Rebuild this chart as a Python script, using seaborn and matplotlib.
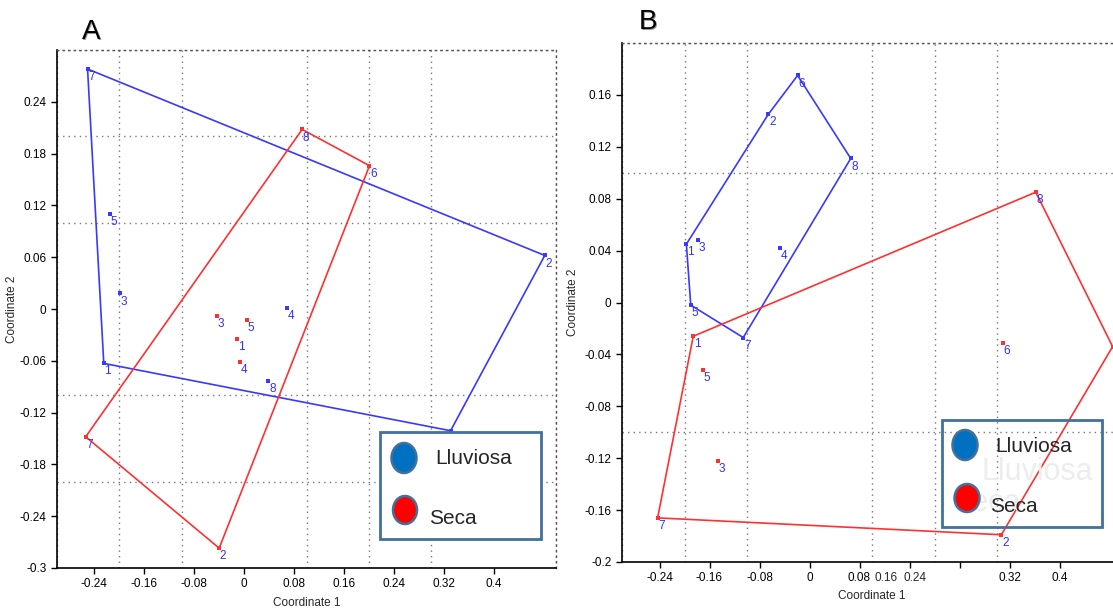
import numpy as np
import pandas as pd
import matplotlib
matplotlib.use("Agg")
import matplotlib.pyplot as plt
import seaborn as sns
from matplotlib.patches import Ellipse, Rectangle
from matplotlib.ticker import MultipleLocator
import matplotlib.transforms as mtransforms

# ---------------- data ----------------
point_ids = [1, 2, 3, 4, 5, 6, 7, 8]

# Panel A
a_lluviosa_x = [-0.225, 0.482, -0.199, 0.068, -0.215, 0.331, -0.251, 0.039]
a_lluviosa_y = [-0.063, 0.062, 0.018, 0.001, 0.110, -0.141, 0.278, -0.083]
a_seca_x = [-0.011, -0.040, -0.044, -0.006, 0.005, 0.201, -0.254, 0.093]
a_seca_y = [-0.035, -0.277, -0.008, -0.061, -0.013, 0.166, -0.148, 0.208]

# Panel B
b_lluviosa_x = [-0.197, -0.066, -0.179, -0.048, -0.190, -0.019, -0.106, 0.066]
b_lluviosa_y = [0.045, 0.145, 0.048, 0.042, -0.002, 0.175, -0.027, 0.111]
b_seca_x = [-0.186, 0.307, -0.147, 0.485, -0.170, 0.309, -0.243, 0.362]
b_seca_y = [-0.026, -0.179, -0.122, -0.034, -0.052, -0.031, -0.166, 0.085]

a_xticks = [-0.24, -0.16, -0.08, 0, 0.08, 0.16, 0.24, 0.32, 0.4]
a_xticklabels = ["-0.24", "-0.16", "-0.08", "0", "0.08", "0.16", "0.24", "0.32", "0.4"]
a_yticks = [-0.3, -0.24, -0.18, -0.12, -0.06, 0, 0.06, 0.12, 0.18, 0.24]
a_yticklabels = ["-0.3", "-0.24", "-0.18", "-0.12", "-0.06", "0", "0.06", "0.12", "0.18", "0.24"]

b_xticks = [-0.24, -0.16, -0.08, 0, 0.08, 0.16, 0.24, 0.32, 0.4]
b_xticklabels = ["-0.24", "-0.16", "-0.08", "0", "0.08", "", "", "0.32", "0.4"]
b_extra_xlabels = ["0.16", "0.24"]
b_extra_xlabel_pos = [0.123, 0.168]
b_yticks = [-0.2, -0.16, -0.12, -0.08, -0.04, 0, 0.04, 0.08, 0.12, 0.16]
b_yticklabels = ["-0.2", "-0.16", "-0.12", "-0.08", "-0.04", "0", "0.04", "0.08", "0.12", "0.16"]

legend_labels = ["Lluviosa", "Seca"]

BLUE = "#3838ff"
RED = "#ff3030"
LABEL_BLUE = "#2f2fff"

sns.set_style("white")
plt.rcParams["font.family"] = ["Liberation Sans", "DejaVu Sans"]

W, H = 1113, 612
fig = plt.figure(figsize=(W / 100, H / 100), dpi=100)


def hull_order(xs, ys):
    pts = sorted(range(len(xs)), key=lambda i: (xs[i], ys[i]))

    def cross(o, a, b):
        return (xs[a] - xs[o]) * (ys[b] - ys[o]) - (ys[a] - ys[o]) * (xs[b] - xs[o])

    lower, upper = [], []
    for p in pts:
        while len(lower) >= 2 and cross(lower[-2], lower[-1], p) <= 0:
            lower.pop()
        lower.append(p)
    for p in reversed(pts):
        while len(upper) >= 2 and cross(upper[-2], upper[-1], p) <= 0:
            upper.pop()
        upper.append(p)
    h = lower[:-1] + upper[:-1]
    return h + [h[0]]


def px_axes(l, t, r, b):
    return fig.add_axes([l / W, 1 - b / H, (r - l) / W, (b - t) / H])


def draw_panel(ax, series, xlim, ylim, xticks, xtl, yticks, ytl):
    for xs, ys, col in series:
        order = hull_order(xs, ys)
        hx = [xs[i] for i in order]
        hy = [ys[i] for i in order]
        sns.lineplot(x=hx, y=hy, sort=False, estimator=None, color=col,
                     linewidth=1.2, ax=ax, zorder=2)
        sns.scatterplot(x=xs, y=ys, color=col, marker="s", s=12, linewidth=0,
                        ax=ax, zorder=3, legend=False)
        for pid, x, y in zip(point_ids, xs, ys):
            ax.annotate(str(pid), (x, y), xytext=(0.5, -1.5), textcoords="offset points",
                        ha="left", va="top", fontsize=8.5, color=LABEL_BLUE,
                        zorder=4, annotation_clip=False)
    ax.set_xlim(*xlim)
    ax.set_ylim(*ylim)
    ax.set_xticks(xticks)
    ax.set_xticklabels(xtl)
    ax.set_yticks(yticks)
    ax.set_yticklabels(ytl)
    ax.xaxis.set_minor_locator(MultipleLocator(0.1))
    ax.yaxis.set_minor_locator(MultipleLocator(0.1))
    ax.tick_params(which="major", direction="out", length=4, width=1,
                   labelsize=8.5, colors="black", left=True, bottom=True)
    ax.tick_params(which="minor", length=0)
    ax.grid(False, which="major")
    ax.grid(True, which="minor", linestyle=(0, (1, 3)), color="#777777", linewidth=1)
    for s in ["left", "bottom"]:
        ax.spines[s].set_color("black")
        ax.spines[s].set_linewidth(1.2)
    for s in ["top", "right"]:
        ax.spines[s].set_linestyle((0, (1, 3)))
        ax.spines[s].set_color("#555555")
        ax.spines[s].set_linewidth(1)
    ax.set_xlabel("Coordinate 1", fontsize=8.5, labelpad=5)
    ax.set_ylabel("Coordinate 2", fontsize=8.5, labelpad=0)
    ax.set_facecolor("white")


# Panel A
axA = px_axes(57, 50, 556, 568)
draw_panel(axA,
           [(a_lluviosa_x, a_lluviosa_y, BLUE), (a_seca_x, a_seca_y, RED)],
           (-0.3, 0.5), (-0.3, 0.3), a_xticks, a_xticklabels, a_yticks, a_yticklabels)
axA.yaxis.set_label_coords(-39 / 499, 0.5)

# Panel B (cut at the right edge)
axB = px_axes(622, 43, 1122, 562)
draw_panel(axB,
           [(b_lluviosa_x, b_lluviosa_y, BLUE), (b_seca_x, b_seca_y, RED)],
           (-0.3, 0.5), (-0.2, 0.2), b_xticks, b_xticklabels, b_yticks, b_yticklabels)
axB.xaxis.set_label_coords(250 / 500, -0.053)
axB.yaxis.set_label_coords(-43 / 500, 0.5)
trans = mtransforms.blended_transform_factory(axB.transData, axB.transAxes)
for lab, xp in zip(b_extra_xlabels, b_extra_xlabel_pos):
    axB.text(xp, 0, lab, transform=trans + mtransforms.ScaledTranslation(0, -7.5 / 72, fig.dpi_scale_trans),
             ha="center", va="top", fontsize=8.5)

# Overlay in pixel coordinates for legends and panel letters
ov = fig.add_axes([0, 0, 1, 1])
ov.set_xlim(0, W)
ov.set_ylim(H, 0)
ov.axis("off")
ov.patch.set_alpha(0)

EDGE = "#41719C"
LEG_BLUE = "#0070C0"
LEG_RED = "#FF0000"

# legend A (white filled)
ov.add_patch(Rectangle((380, 432), 161, 107, facecolor="white", edgecolor=EDGE, linewidth=2, zorder=5))
ov.add_patch(Ellipse((404, 458), 25, 30, facecolor=LEG_BLUE, edgecolor=EDGE, linewidth=1.8, zorder=6))
ov.add_patch(Ellipse((405, 510), 24, 28, facecolor=LEG_RED, edgecolor=EDGE, linewidth=1.8, zorder=6))
ov.text(435, 459, legend_labels[0], fontsize=15, va="center", ha="left", zorder=7)
ov.text(429, 518, legend_labels[1], fontsize=15, va="center", ha="left", zorder=7)

# legend B (transparent, faint ghost text behind)
ov.text(981, 472, legend_labels[0], fontsize=22, va="center", ha="left", color="#ededed", zorder=4)
ov.text(952, 503, legend_labels[1], fontsize=22, va="center", ha="left", color="#ededed", zorder=4)
ov.add_patch(Rectangle((942, 420), 160, 107, facecolor="none", edgecolor=EDGE, linewidth=2, zorder=5))
ov.add_patch(Ellipse((965, 445), 25, 30, facecolor=LEG_BLUE, edgecolor=EDGE, linewidth=1.8, zorder=6))
ov.add_patch(Ellipse((967, 498), 25, 28, facecolor=LEG_RED, edgecolor=EDGE, linewidth=1.8, zorder=6))
ov.text(995, 447, legend_labels[0], fontsize=15, va="center", ha="left", zorder=7)
ov.text(990, 507, legend_labels[1], fontsize=15, va="center", ha="left", zorder=7)

# panel letters with soft shadow
for letter, (x, y) in [("A", (91, 32)), ("B", (648, 22))]:
    ov.text(x + 1.5, y + 1.5, letter, fontsize=20, ha="center", va="center", color="#999999", zorder=6)
    ov.text(x, y, letter, fontsize=20, ha="center", va="center", color="black", zorder=7)

fig.savefig("out.png", dpi=100, facecolor="white")
